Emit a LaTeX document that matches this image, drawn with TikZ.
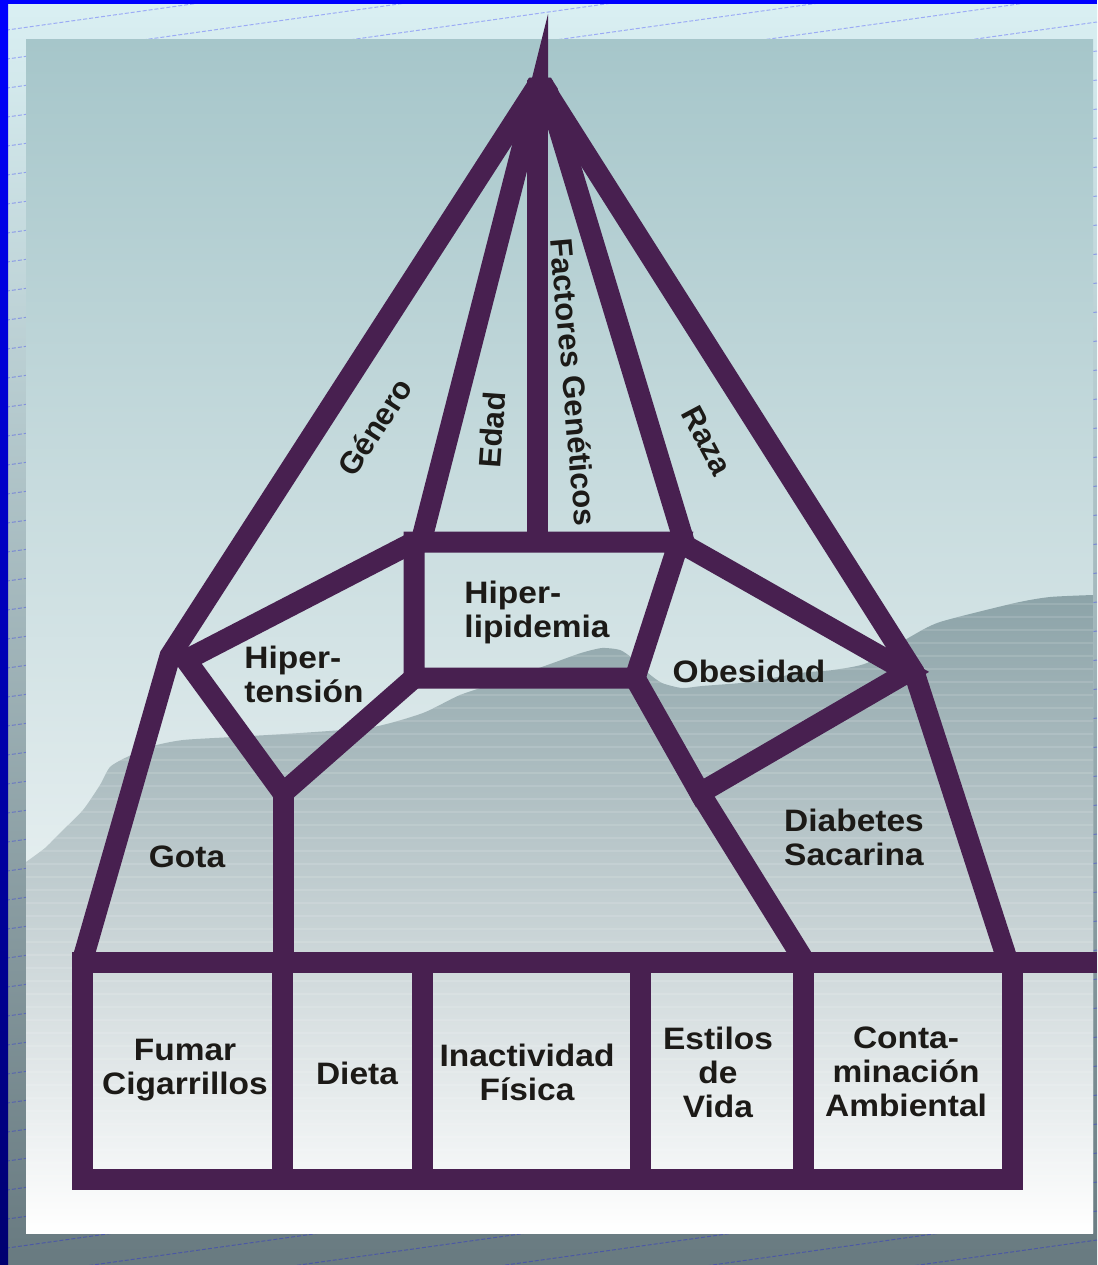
\documentclass[tikz,border=0pt]{standalone}
\usepackage{fontspec}
\setmainfont{Liberation Sans}[FakeStretch=1.08]
\newfontfamily\plainsans{Liberation Sans}
\usepackage{xcolor}
\usepackage{tikz}

\definecolor{plum}{RGB}{72,32,80}
\definecolor{ink}{RGB}{28,26,23}
\definecolor{bgtop}{RGB}{218,240,243}
\definecolor{bgmid}{RGB}{157,179,184}
\definecolor{bgbot}{RGB}{104,122,128}
\definecolor{navyb}{RGB}{0,0,112}
\definecolor{ptop}{RGB}{166,198,202}
\definecolor{pmid}{RGB}{211,231,234}
\definecolor{mtop}{RGB}{140,163,168}
\definecolor{mmid}{RGB}{180,198,201}

\tikzset{
  beam/.style={draw=plum,line width=21pt,line join=miter},
  lbl/.style={font=\fontsize{31}{34}\selectfont\bfseries,text=ink,align=center,inner sep=0pt},
  rotlbl/.style={lbl,font=\fontsize{31}{34}\selectfont\plainsans\bfseries},
  dashln/.style={blue,opacity=.28,line width=1pt,dash pattern=on 4pt off 2pt}
}

\begin{document}
\begin{tikzpicture}[x=1pt,y=-1pt]
                \useasboundingbox (0,0) rectangle (1097,1265);
                \shade[top color=bgtop,middle color=bgmid,bottom color=bgbot] (0,0) rectangle (1097,1265);
                \foreach \k in {-1,...,50}
                    \draw[dashln] (0,{31+29*\k}) -- (1097,{31+29*\k-154});
                \shade[top color=blue,bottom color=navyb] (0,0) rectangle (8,1265);
                \fill[blue] (0,0) rectangle (1097,4);
                \shade[top color=ptop,middle color=pmid,bottom color=white] (26,40) rectangle (1093,1233);
                \begin{scope}
                    \clip plot[smooth,tension=.4] coordinates {(26,862) (45,848) (60,833) (83,810) (100,785) (110,767) (127,757) (153,746) (183,740) (233,737) (300,733) (373,727) (423,713) (460,695) (505,680) (553,663) (581,653) (602,648) (620,650) (632,658) (648,673) (662,683) (682,688) (702,686) (750,682) (800,673) (833,670) (867,663) (910,637) (940,622) (1015,603) (1050,597) (1093,595)} -- (1093,1233) -- (26,1233) -- cycle;
                    \shade[top color=mtop,middle color=mmid,bottom color=white] (26,595) rectangle (1093,1233);
                    \foreach \y in {604,617,...,1180}
                        \draw[white,opacity=.12,line width=1.2pt] (26,\y) -- (1093,\y);
                \end{scope}

                \coordinate (gen) at (170,656);
                \coordinate (genfoot) at (82,962);
                \coordinate (hlTL) at (414,542);
                \coordinate (hlTR) at (679,542);
                \coordinate (hlBR) at (635,678);
                \coordinate (hlBL) at (414,678);
                \coordinate (htL) at (186,660);
                \coordinate (htB) at (283,793);
                \coordinate (gotafoot) at (283,962);
                \coordinate (facfoot) at (686,548);
                \coordinate (edadfoot) at (421,542);
                \coordinate (raza) at (914,672);
                \coordinate (razafoot) at (1008,962);
                \coordinate (obR) at (908,672);
                \coordinate (obB) at (700,793);
                \coordinate (diafoot) at (805,962);

                \fill[plum] (548,14) -- (548,80) -- (531,80) -- (532,78) -- cycle;
                \begin{scope}
                    \clip (529,78) -- (-116,1078) -- (1191,1078) -- (551,78) -- cycle;
                    \draw[beam] (537.5,40) -- (537.5,542);
                    \draw[beam] (567,40) -- (gen) -- (genfoot);
                    \draw[beam] (549.8,40) -- (edadfoot);
                    \draw[beam] (532,40) -- (facfoot);
                    \draw[beam] (513.6,40) -- (raza) -- (razafoot);
                \end{scope}
                \draw[beam] (hlTL) -- (hlTR) -- (hlBR) -- (hlBL) -- cycle;
                \draw[beam] (hlTL) -- (htL) -- (htB) -- (hlBL);
                \draw[beam] (htB) -- (gotafoot);
                \draw[beam] (hlTR) -- (obR) -- (obB) -- (hlBR);
                \draw[beam] (obB) -- (diafoot);
                \draw[beam] (72,962) -- (1097,962);
                \draw[beam] (82,962) rectangle (1012,1179);
                \foreach \x in {282,422,640,803}
                    \draw[beam] (\x,962) -- (\x,1179);

                \node[rotlbl,rotate=57] (genero) at (375,427) {Género};
                \node[rotlbl,rotate=86] (edad) at (492,430) {Edad};
                \node[rotlbl,rotate=-85] (factores) at (574,382) {Factores Genéticos};
                \node[rotlbl,rotate=-62] (razalbl) at (707,441) {Raza};
                \node[lbl,align=left] (hipert) at (304,674) {Hiper-\\tensión};
                \node[lbl,align=left] (hiperl) at (537,612) {Hiper-\\lipidemia};
                \node[lbl] (obes) at (749,671) {Obesidad};
                \node[lbl,align=left] (diab) at (854,837) {Diabetes\\Sacarina};
                \node[lbl] (gota) at (187,857) {Gota};
                \node[lbl] (fumar) at (185,1070) {Fumar\\Cigarrillos};
                \node[lbl] (dieta) at (357,1073) {Dieta};
                \node[lbl] (inact) at (527,1072) {Inactividad\\Física};
                \node[lbl] (estilos) at (718,1072) {Estilos\\de\\Vida};
                \node[lbl] (conta) at (906,1072) {Conta-\\minación\\Ambiental};
            \end{tikzpicture}
\end{document}
